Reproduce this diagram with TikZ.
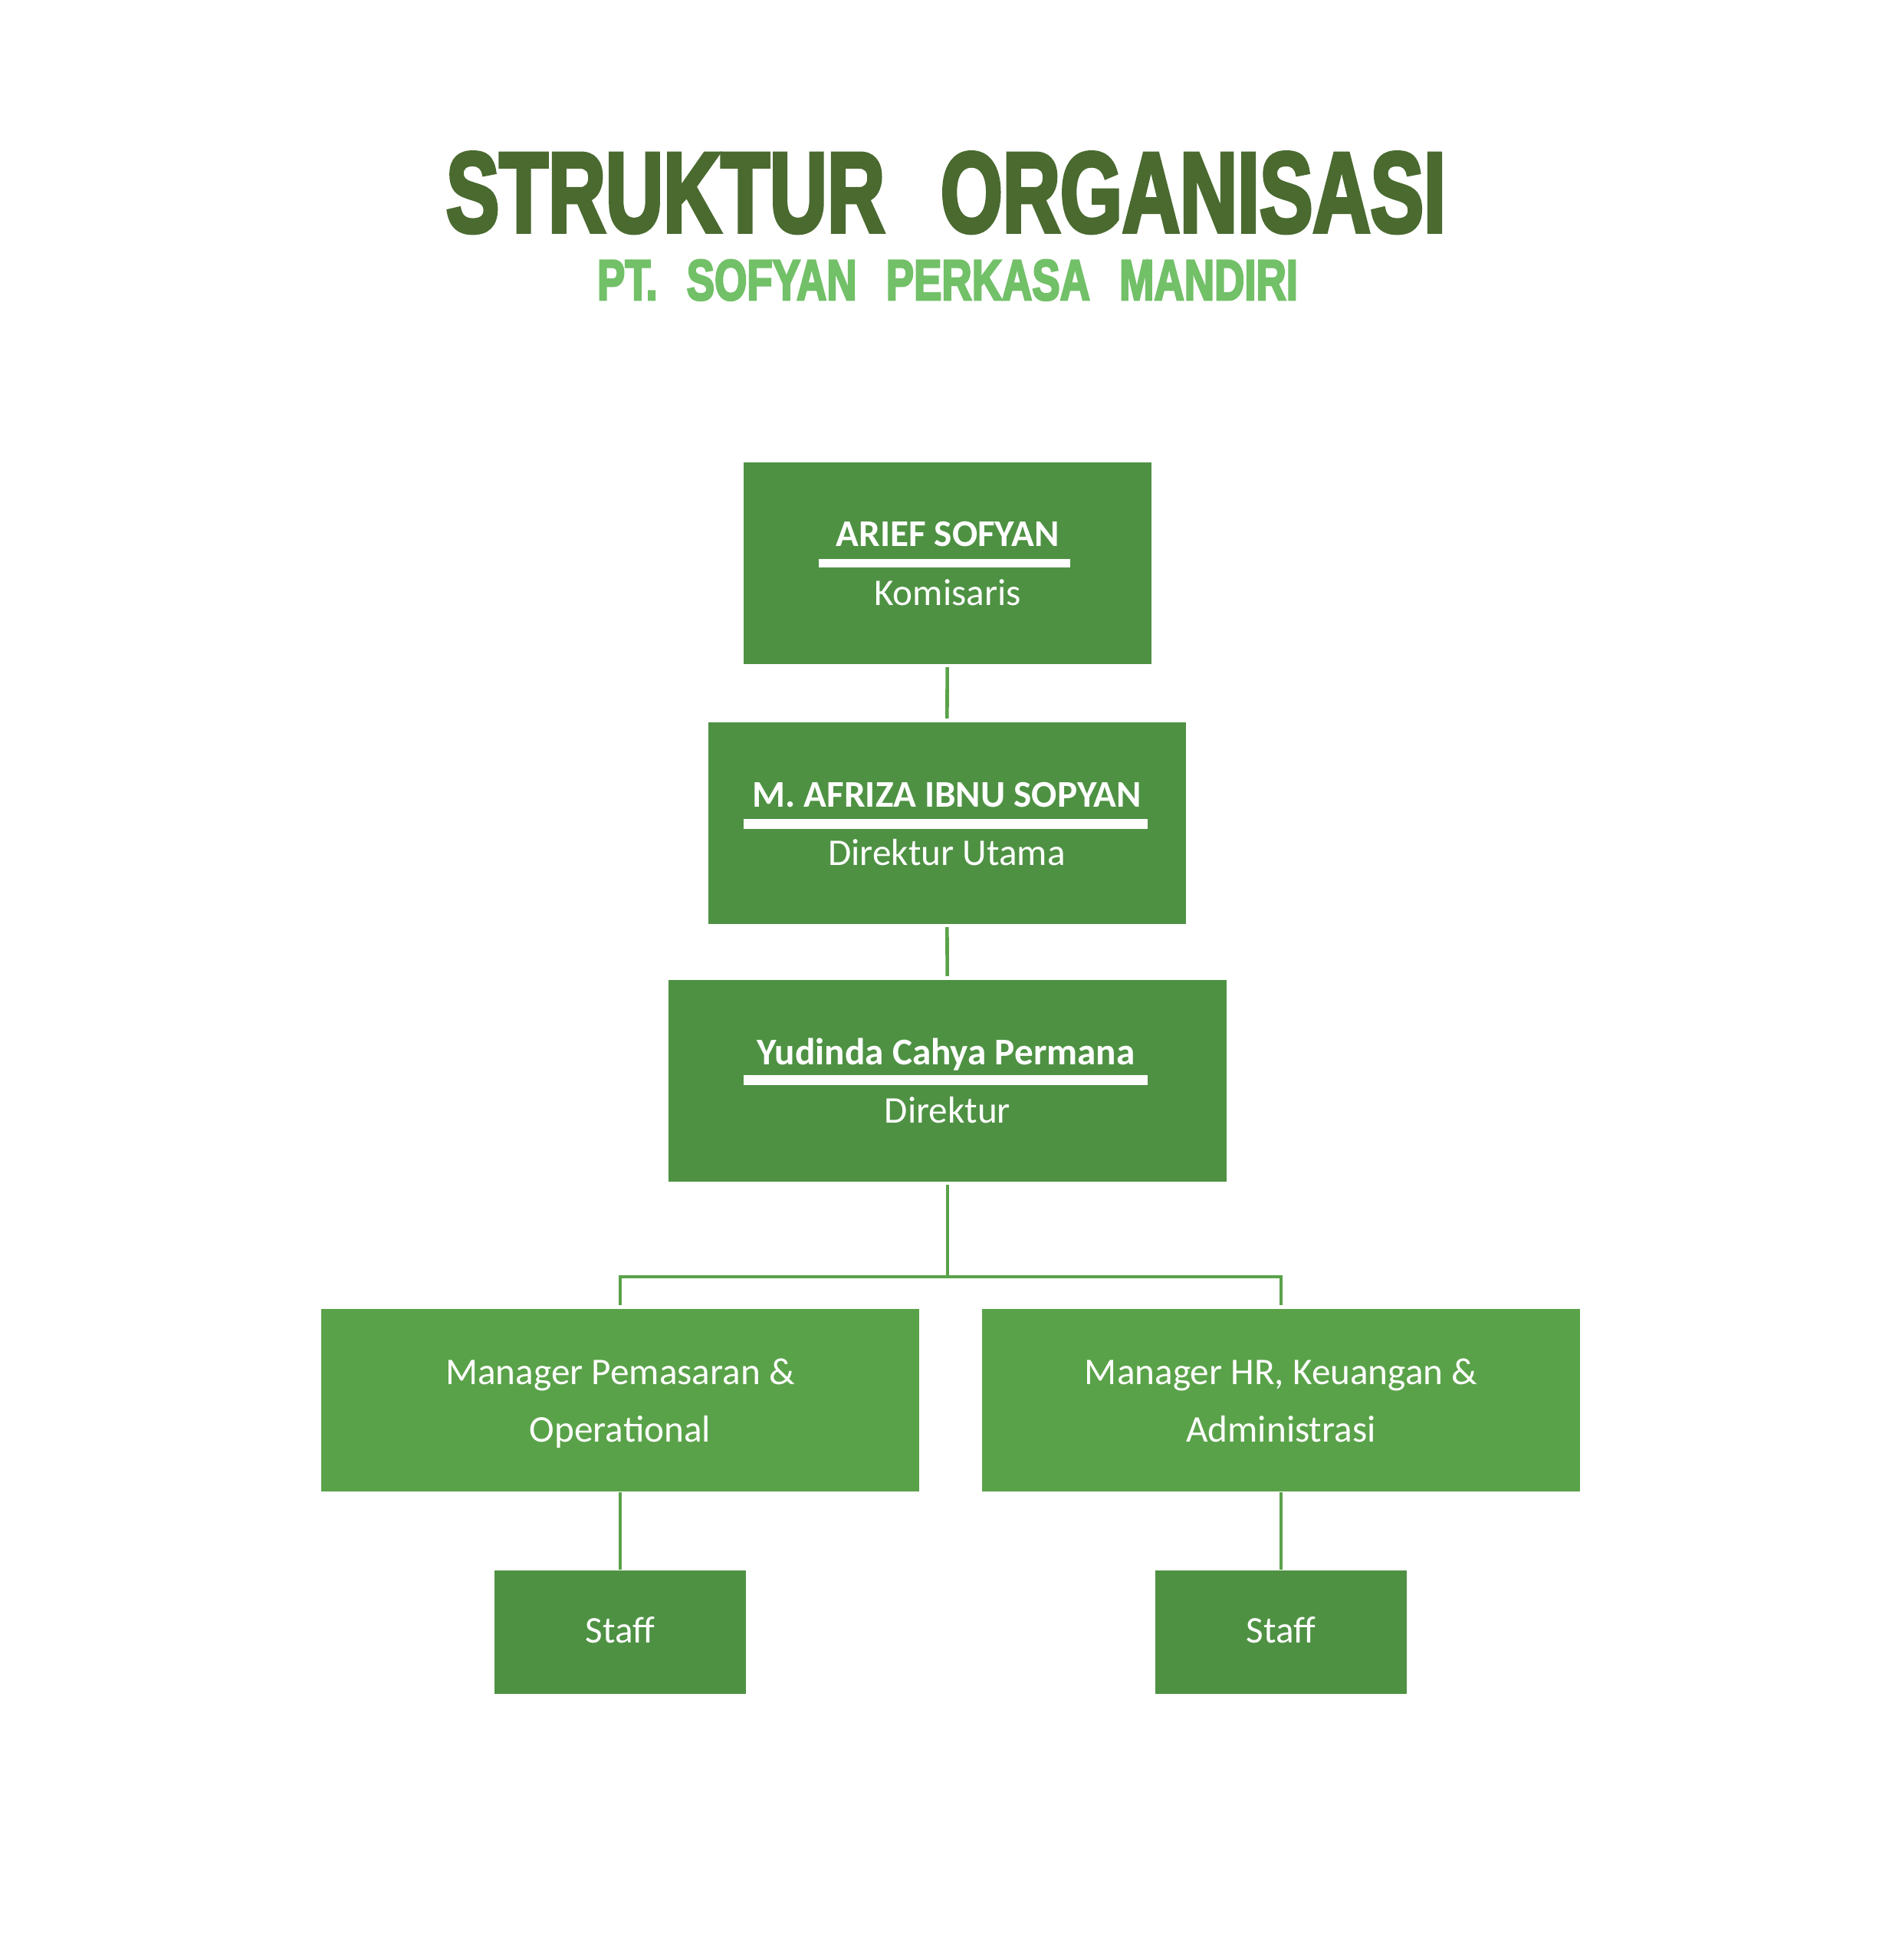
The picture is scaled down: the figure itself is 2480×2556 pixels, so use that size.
\documentclass[tikz,border=0pt]{standalone}
\usepackage{fontspec}
\usepackage{graphicx}
\setmainfont{Carlito}
\newfontfamily\headfont{Liberation Sans}[BoldFeatures={FakeBold=4}]

\definecolor{judul}{HTML}{4A6A30}
\definecolor{subjudul}{HTML}{72C068}
\definecolor{kotak}{HTML}{4E9143}
\definecolor{kotakmuda}{HTML}{5AA249}

\tikzset{
	kotakgelap/.style={fill=kotak, inner sep=0pt, minimum height=26.3mm},
	kotakmanager/.style={fill=kotakmuda, inner sep=0pt, minimum width=78mm, minimum height=23.8mm},
	kotakstaff/.style={fill=kotak, inner sep=0pt, minimum width=32.8mm, minimum height=16.1mm},
	nama/.style={anchor=base, inner sep=0pt, text=white, font=\fontsize{14}{17}\selectfont\bfseries},
	peran/.style={anchor=base, inner sep=0pt, text=white, font=\fontsize{14}{17}\selectfont},
	garis/.style={draw=kotakmuda, line width=1.3pt}
}

\begin{document}
\begin{tikzpicture}[x=0.1mm, y=-0.1mm]

	\useasboundingbox (0,0) rectangle (2480,2556);

	% Judul
	\node[anchor=base, inner sep=0pt, text=judul] (judul) at (1234,302)
		{\resizebox{130.4mm}{10.3mm}{\headfont\bfseries STRUKTUR\hspace{0.7em}ORGANISASI}};
	\node[anchor=base, inner sep=0pt, text=subjudul] (subjudul) at (1236,391)
		{\resizebox{91.4mm}{5.2mm}{\headfont\bfseries PT.\hspace{0.7em}SOFYAN\hspace{0.7em}PERKASA\hspace{0.7em}MANDIRI}};

	% Komisaris
	\node[kotakgelap, minimum width=53.2mm] (komisaris) at (1236,734) {};
	\node[nama] (namakomisaris) at (1236,712) {ARIEF SOFYAN};
	\fill[white] (1068,729) rectangle (1396,740);
	\node[peran] (perankomisaris) at (1236,789) {Komisaris};

	% Direktur Utama
	\node[kotakgelap, minimum width=62.3mm] (dirut) at (1235,1073) {};
	\node[nama] (namadirut) at (1235,1052) {M. AFRIZA IBNU SOPYAN};
	\fill[white] (970,1068) rectangle (1497,1081);
	\node[peran] (perandirut) at (1235,1128) {Direktur Utama};

	% Direktur
	\node[kotakgelap, minimum width=72.8mm] (direktur) at (1236,1409) {};
	\node[nama] (namadirektur) at (1234,1388) {Yudinda Cahya Permana};
	\fill[white] (970,1402) rectangle (1497,1415);
	\node[peran] (perandirektur) at (1236,1464) {Direktur};

	% Manager
	\node[kotakmanager] (pemasaran) at (809,1826) {};
	\node[peran] (teks1pemasaran) at (809,1805) {Manager Pemasaran \&};
	\node[peran] (teks2pemasaran) at (809,1880) {Operational};

	\node[kotakmanager] (hr) at (1671,1826) {};
	\node[peran] (teks1hr) at (1671,1805) {Manager HR, Keuangan \&};
	\node[peran] (teks2hr) at (1671,1880) {Administrasi};

	% Staff
	\node[kotakstaff] (staff1) at (809,2128) {};
	\node[peran] (teksstaff1) at (809,2142) {Staff};
	\node[kotakstaff] (staff2) at (1671,2128) {};
	\node[peran] (teksstaff2) at (1671,2142) {Staff};

	% Garis
	\coordinate (cabang) at (1236,1665);
	\draw[garis, shorten <=0.4mm, shorten >=0.4mm] (komisaris) -- (dirut);
	\draw[garis, shorten <=0.4mm, shorten >=0.4mm] (dirut) -- (direktur);
	\draw[garis, shorten <=0.4mm] (direktur) -- (cabang);
	\draw[garis, shorten >=0.4mm] (cabang) -| (pemasaran);
	\draw[garis, shorten >=0.4mm] (cabang) -| (hr);
	\draw[garis] (pemasaran) -- (staff1);
	\draw[garis] (hr) -- (staff2);

\end{tikzpicture}
\end{document}
